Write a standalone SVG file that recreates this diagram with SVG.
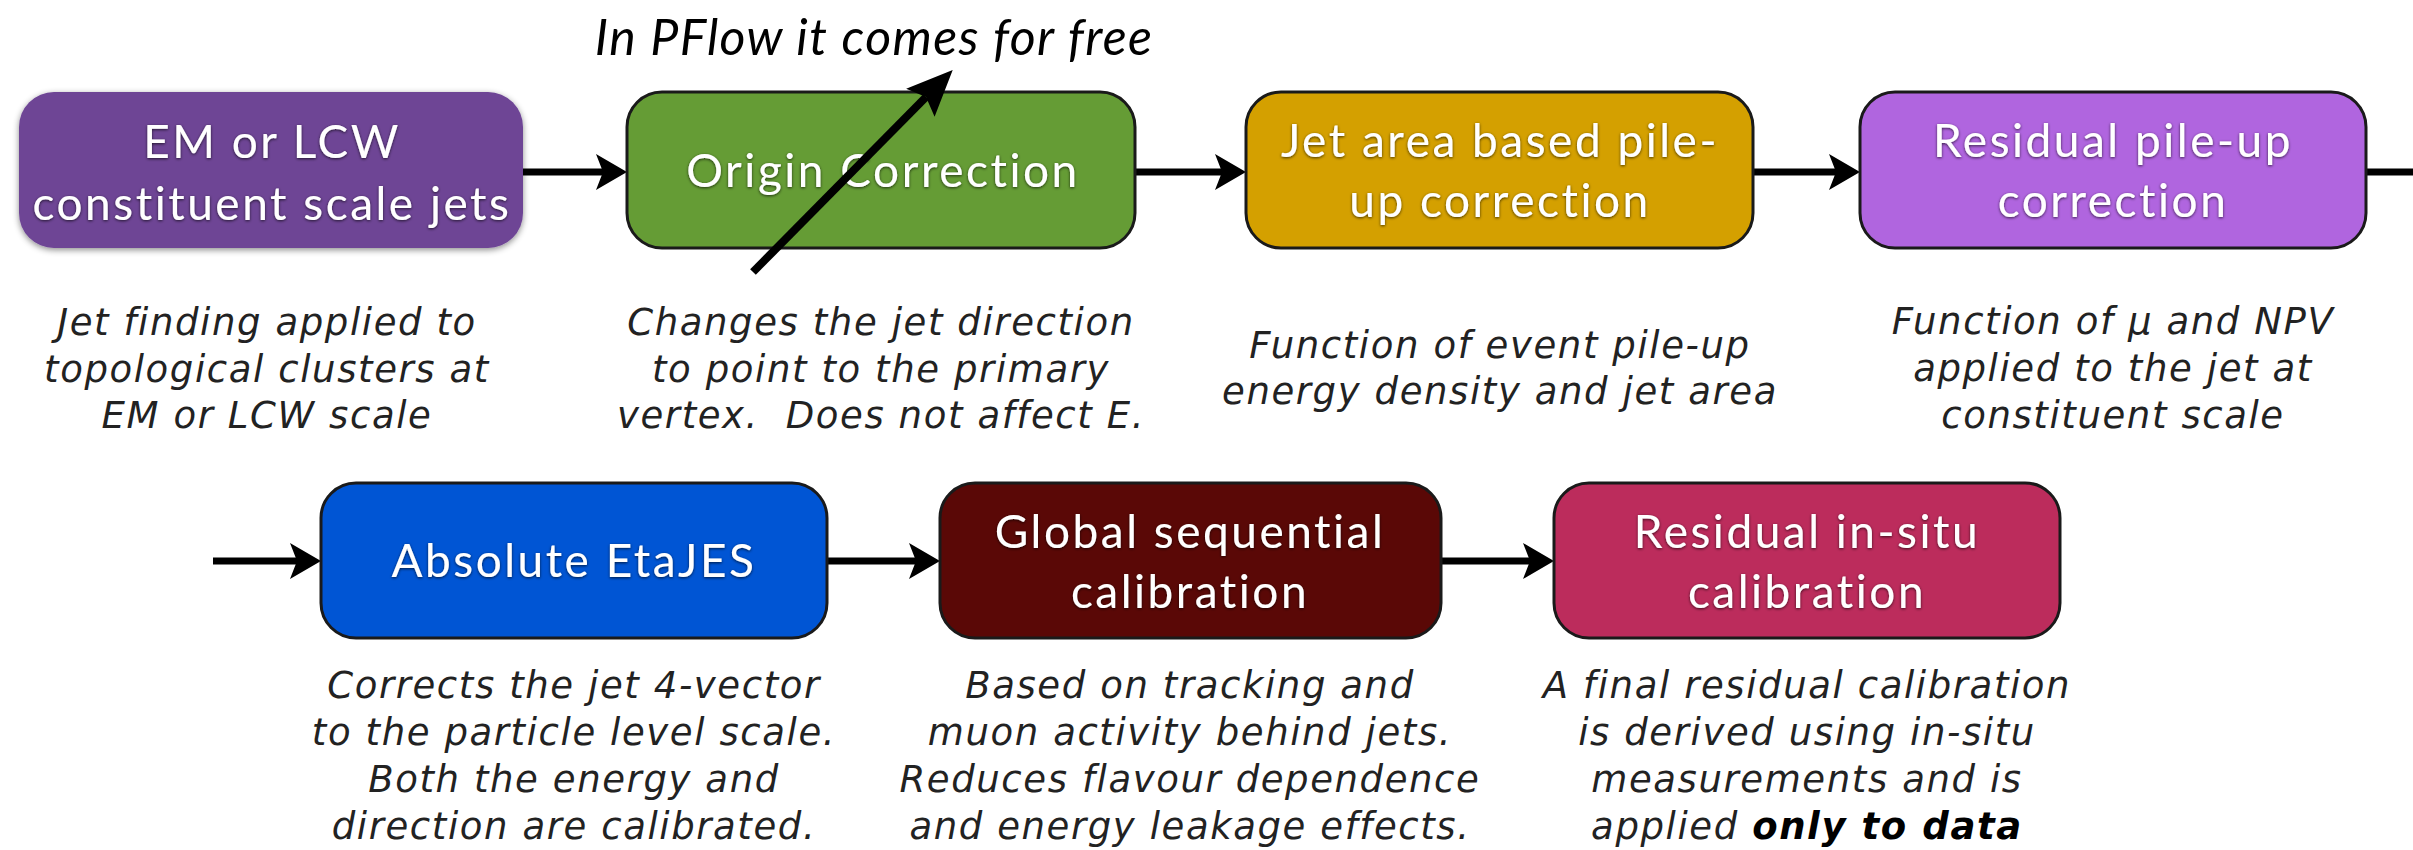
<svg xmlns="http://www.w3.org/2000/svg" width="2413" height="850" viewBox="0 0 2413 850">
  <style>
    .box { stroke: #1a1a1a; stroke-width: 3; }
    .lbl { font-family: Lato, "Open Sans", sans-serif; font-size: 46px; letter-spacing: 2.5px; fill: #ffffff; text-anchor: middle; filter: url(#glow); }
    .desc { font-family: "DejaVu Sans", Verdana, sans-serif; font-style: oblique; font-size: 37px; letter-spacing: 1.6px; fill: #222222; text-anchor: middle; }
    .note { font-family: Lato, sans-serif; font-style: italic; font-size: 50px; letter-spacing: 1.4px; fill: #000000; text-anchor: middle; }
    .flow { stroke: #000000; stroke-width: 7; fill: none; marker-end: url(#head); }
  </style>
  <defs>
    <filter id="glow" x="-10%" y="-30%" width="120%" height="160%">
      <feDropShadow dx="0" dy="1" stdDeviation="1.5" flood-color="#000000" flood-opacity="0.7"/>
    </filter>
    <filter id="soft" x="-5%" y="-10%" width="110%" height="120%">
      <feDropShadow dx="0" dy="2" stdDeviation="3" flood-color="#000000" flood-opacity="0.45"/>
    </filter>
    <marker id="head" markerUnits="userSpaceOnUse" markerWidth="31" markerHeight="36" refX="7" refY="18" orient="auto">
      <path d="M0,0 L31,18 L0,36 L7,18 Z" fill="#000000"/>
    </marker>
    <marker id="bighead" markerUnits="userSpaceOnUse" markerWidth="46" markerHeight="40" refX="8" refY="20" orient="auto">
      <path d="M0,0 L46,20 L0,40 L8,20 Z" fill="#000000"/>
    </marker>
  </defs>

  <rect width="2413" height="850" fill="#ffffff"/>

  <!-- connectors -->
  <g id="connectors">
    <line class="flow" x1="523" y1="172" x2="603" y2="172"/>
    <line class="flow" x1="1135" y1="172" x2="1222" y2="172"/>
    <line class="flow" x1="1753" y1="172" x2="1836" y2="172"/>
    <line x1="2366" y1="172" x2="2413" y2="172" stroke="#000000" stroke-width="7"/>
    <line class="flow" x1="213" y1="561" x2="297" y2="561"/>
    <line class="flow" x1="827" y1="561" x2="916" y2="561"/>
    <line class="flow" x1="1441" y1="561" x2="1530" y2="561"/>
  </g>

  <!-- row 1 -->
  <g id="em-lcw">
    <rect x="19" y="92" width="504" height="156" rx="35" fill="#6E4595" filter="url(#soft)"/>
    <text class="lbl" x="272" y="158">EM or LCW</text>
    <text class="lbl" x="272" y="220">constituent scale jets</text>
    <text class="desc" x="267" y="335">Jet finding applied to</text>
    <text class="desc" x="267" y="382">topological clusters at</text>
    <text class="desc" x="267" y="428">EM or LCW scale</text>
  </g>

  <g id="origin">
    <rect class="box" x="627" y="92" width="508" height="156" rx="35" fill="#659C35"/>
    <text class="lbl" x="883" y="187">Origin Correction</text>
    <text class="desc" x="881" y="335">Changes the jet direction</text>
    <text class="desc" x="881" y="382">to point to the primary</text>
    <text class="desc" x="881" y="428" xml:space="preserve">vertex.  Does not affect E.</text>
  </g>

  <g id="jet-area">
    <rect class="box" x="1246" y="92" width="507" height="156" rx="35" fill="#D4A000"/>
    <text class="lbl" x="1500" y="157">Jet area based pile-</text>
    <text class="lbl" x="1500" y="217">up correction</text>
    <text class="desc" x="1500" y="358">Function of event pile-up</text>
    <text class="desc" x="1500" y="404">energy density and jet area</text>
  </g>

  <g id="residual-pileup">
    <rect class="box" x="1860" y="92" width="506" height="156" rx="35" fill="#B065DF"/>
    <text class="lbl" x="2113" y="157">Residual pile-up</text>
    <text class="lbl" x="2113" y="217">correction</text>
    <text class="desc" x="2113" y="334">Function of μ and NPV</text>
    <text class="desc" x="2113" y="381">applied to the jet at</text>
    <text class="desc" x="2113" y="428">constituent scale</text>
  </g>

  <!-- row 2 -->
  <g id="absolute-etajes">
    <rect class="box" x="321" y="483" width="506" height="155" rx="35" fill="#0055D4"/>
    <text class="lbl" x="574" y="577">Absolute EtaJES</text>
    <text class="desc" x="574" y="698">Corrects the jet 4-vector</text>
    <text class="desc" x="574" y="745">to the particle level scale.</text>
    <text class="desc" x="574" y="792">Both the energy and</text>
    <text class="desc" x="574" y="839">direction are calibrated.</text>
  </g>

  <g id="gsc">
    <rect class="box" x="940" y="483" width="501" height="155" rx="35" fill="#5A0806"/>
    <text class="lbl" x="1190" y="548">Global sequential</text>
    <text class="lbl" x="1190" y="608">calibration</text>
    <text class="desc" x="1190" y="698">Based on tracking and</text>
    <text class="desc" x="1190" y="745">muon activity behind jets.</text>
    <text class="desc" x="1190" y="792">Reduces flavour dependence</text>
    <text class="desc" x="1190" y="839">and energy leakage effects.</text>
  </g>

  <g id="insitu">
    <rect class="box" x="1554" y="483" width="506" height="155" rx="35" fill="#BC2C5C"/>
    <text class="lbl" x="1807" y="548">Residual in-situ</text>
    <text class="lbl" x="1807" y="608">calibration</text>
    <text class="desc" x="1807" y="698">A final residual calibration</text>
    <text class="desc" x="1807" y="745">is derived using in-situ</text>
    <text class="desc" x="1807" y="792">measurements and is</text>
    <text class="desc" x="1807" y="839">applied <tspan font-weight="bold" fill="#000000">only to data</tspan></text>
  </g>

  <!-- annotation -->
  <g id="pflow-note">
    <text class="note" x="874" y="55">In PFlow it comes for free</text>
    <line x1="753" y1="272" x2="926" y2="97" stroke="#000000" stroke-width="8" marker-end="url(#bighead)"/>
  </g>
</svg>
